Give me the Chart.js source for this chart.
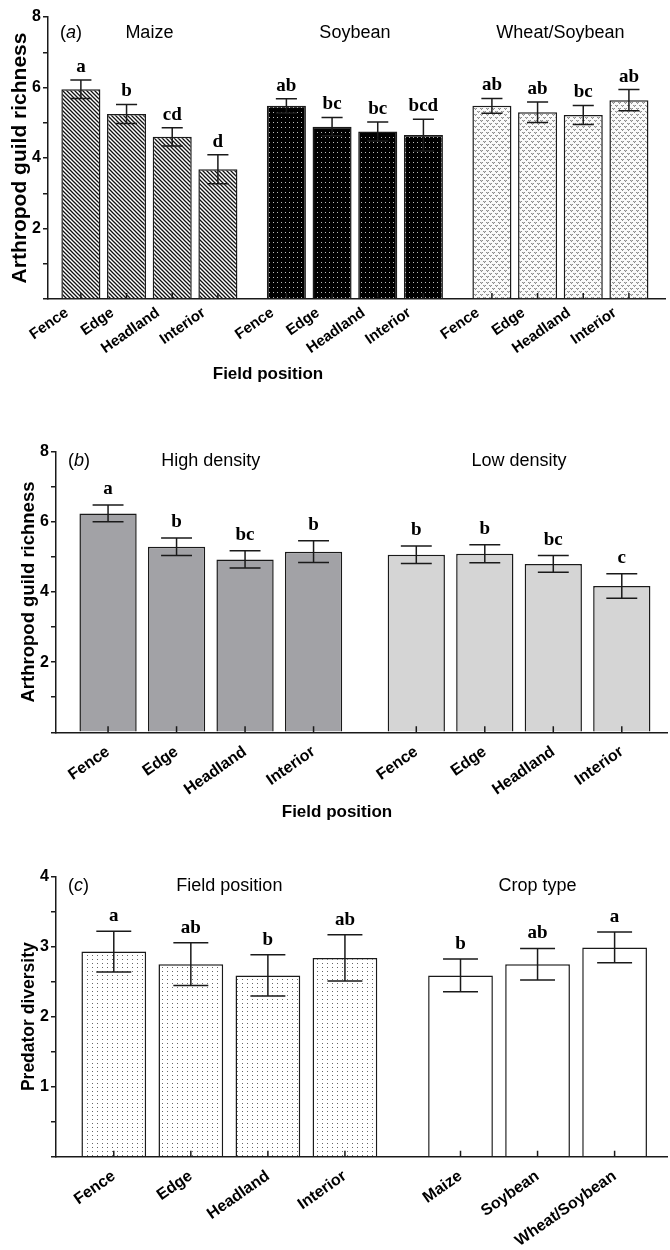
<!DOCTYPE html>
<html>
<head>
<meta charset="utf-8">
<script src="https://cdn.jsdelivr.net/npm/chart.js@4.4.1/dist/chart.umd.min.js"></script>
<style>
  body { margin: 0; background: #fff; }
  canvas { position: absolute; left: 0; }
</style>
</head>
<body>
<canvas id="panelA" width="670" height="400" style="top:0px"></canvas>
<canvas id="panelB" width="670" height="430" style="top:400px"></canvas>
<canvas id="panelC" width="670" height="420" style="top:830px"></canvas>
<script>
// ---- data ----
const positionLabels = ["Fence", "Edge", "Headland", "Interior"];
const cropLabels = ["Maize", "Soybean", "Wheat/Soybean"];

// (a) arthropod guild richness, crop x field position
const maizeRichness = [5.95, 5.25, 4.6, 3.68];
const maizeErr = [0.26, 0.27, 0.26, 0.41];
const maizeLetters = ["a", "b", "cd", "d"];
const soyRichness = [5.48, 4.89, 4.75, 4.65];
const soyErr = [0.2, 0.26, 0.27, 0.45];
const soyLetters = ["ab", "bc", "bc", "bcd"];
const wheatRichness = [5.48, 5.3, 5.22, 5.64];
const wheatErr = [0.21, 0.29, 0.27, 0.3];
const wheatLetters = ["ab", "ab", "bc", "ab"];

// (b) arthropod guild richness, density x field position
const highDensity = [6.24, 5.29, 4.93, 5.15];
const highErr = [0.24, 0.25, 0.245, 0.31];
const highLetters = ["a", "b", "bc", "b"];
const lowDensity = [5.06, 5.09, 4.8, 4.17];
const lowErr = [0.25, 0.255, 0.24, 0.35];
const lowLetters = ["b", "b", "bc", "c"];

// (c) predator diversity
const predatorByPosition = [2.93, 2.75, 2.59, 2.84];
const predatorPosErr = [0.29, 0.305, 0.295, 0.33];
const predatorPosLetters = ["a", "ab", "b", "ab"];
const predatorByCrop = [2.59, 2.75, 2.99];
const predatorCropErr = [0.235, 0.225, 0.22];
const predatorCropLetters = ["b", "ab", "a"];

const richnessTicks = [2, 4, 6, 8];
const diversityTicks = [1, 2, 3, 4];

const SANS = "'Liberation Sans', Arial, sans-serif";
const SERIF = "'Liberation Serif', 'Times New Roman', serif";
const INK = "#1a1a1a";

// ---- fill patterns ----
function tile(w, h, paint) {
  const c = document.createElement("canvas");
  c.width = w;
  c.height = h;
  const g = c.getContext("2d");
  paint(g);
  return g.createPattern(c, "repeat");
}

const hatchFill = tile(4, 4, (g) => {
  g.fillStyle = "#fff";
  g.fillRect(0, 0, 4, 4);
  g.strokeStyle = "#111";
  g.lineWidth = 1.3;
  g.beginPath();
  g.moveTo(-1, -1); g.lineTo(5, 5);
  g.moveTo(-1, 3); g.lineTo(1, 5);
  g.moveTo(3, -1); g.lineTo(5, 1);
  g.stroke();
});

const blackDotFill = tile(4, 5, (g) => {
  g.fillStyle = "#000";
  g.fillRect(0, 0, 4, 5);
  g.fillStyle = "#bbb";
  g.fillRect(1, 2, 1, 1);
});

const wheatFill = tile(6, 6, (g) => {
  g.fillStyle = "#fafafa";
  g.fillRect(0, 0, 6, 6);
  g.fillStyle = "#8c8c8c";
  [[0, 0], [2, 0], [1, 1], [3, 3], [5, 3], [4, 4]].forEach(([x, y]) => g.fillRect(x, y, 1, 1));
  g.fillStyle = "#c4c4c4";
  [[1, 0], [4, 3]].forEach(([x, y]) => g.fillRect(x, y, 1, 1));
});

const sparseDotFill = tile(5, 4, (g) => {
  g.fillStyle = "#fff";
  g.fillRect(0, 0, 5, 4);
  g.fillStyle = "#666";
  g.fillRect(2, 1, 1, 1);
});

// ---- error bars, letters, headers, inward x ticks ----
const decorPlugin = {
  id: "decor",
  afterDatasetsDraw(chart, args, o) {
    const ctx = chart.ctx;
    const y = chart.scales.y;
    const area = chart.chartArea;
    ctx.save();
    chart.data.datasets.forEach((ds, di) => {
      const meta = chart.getDatasetMeta(di);
      const bars = meta.data;
      bars.forEach((bar, i) => {
        const v = ds.data[i].y;
        const e = ds.errors[i];
        const top = y.getPixelForValue(v + e);
        const bot = y.getPixelForValue(v - e);
        const half = bar.width * 0.27;
        ctx.strokeStyle = INK;
        ctx.lineWidth = 1.5;
        ctx.beginPath();
        ctx.moveTo(bar.x, top); ctx.lineTo(bar.x, bot);
        ctx.moveTo(bar.x - half, top); ctx.lineTo(bar.x + half, top);
        ctx.moveTo(bar.x - half, bot); ctx.lineTo(bar.x + half, bot);
        // inward tick on the x axis
        ctx.moveTo(bar.x, area.bottom); ctx.lineTo(bar.x, area.bottom - 6);
        ctx.stroke();
        ctx.fillStyle = "#000";
        ctx.font = "bold " + o.letterSize + "px " + SERIF;
        ctx.textAlign = "center";
        ctx.textBaseline = "alphabetic";
        ctx.fillText(ds.letters[i], bar.x, top - o.letterGap);
      });
      // group header centred over the group
      const mid = (bars[0].x + bars[bars.length - 1].x) / 2;
      ctx.font = o.headerSize + "px " + SANS;
      ctx.textAlign = "center";
      ctx.fillStyle = "#000";
      ctx.fillText(ds.label, mid, o.headerY);
    });
    // panel tag like "(a)"
    ctx.textAlign = "left";
    let x = o.tagX;
    const parts = [["(", ""], [o.tag, "italic "], [")", ""]];
    parts.forEach(([t, st]) => {
      ctx.font = st + o.headerSize + "px " + SANS;
      ctx.fillText(t, x, o.headerY);
      x += ctx.measureText(t).width;
    });
    if (o.xTitle) {
      ctx.font = "bold 17px " + SANS;
      ctx.textAlign = "center";
      ctx.fillText(o.xTitle, o.xTitleX, o.xTitleY);
    }
    ctx.restore();
  },
};

function buildPanel(id, p) {
  const canvas = document.getElementById(id);
  const H = canvas.height;
  const positions = [];
  const labels = [];
  const datasets = p.groups.map((grp, gi) => {
    const start = gi * 4.5;
    const data = grp.values.map((v, i) => {
      positions.push(start + i);
      labels.push(grp.labels[i]);
      return { x: start + i, y: v };
    });
    return {
      label: grp.title,
      data: data,
      errors: grp.errors,
      letters: grp.letters,
      backgroundColor: grp.fill,
      borderColor: INK,
      borderWidth: 1.5,
      grouped: false,
      barPercentage: p.barPct,
      categoryPercentage: 1,
    };
  });

  new Chart(canvas, {
    type: "bar",
    data: { datasets: datasets },
    plugins: [decorPlugin],
    options: {
      responsive: false,
      animation: false,
      layout: {
        autoPadding: false,
        padding: { top: p.area.top, left: 0, right: 670 - p.area.right, bottom: 0 },
      },
      plugins: {
        legend: { display: false },
        tooltip: { enabled: false },
        decor: p.decor,
      },
      scales: {
        x: {
          type: "linear",
          min: p.xMin,
          max: positions[positions.length - 1] + p.xPadRight,
          offset: false,
          afterBuildTicks: (s) => {
            s.ticks = positions.map((v) => ({ value: v }));
          },
          afterFit: (s) => {
            s.height = H - p.area.bottom;
            s.paddingLeft = 0;
            s.paddingRight = 0;
          },
          grid: { drawOnChartArea: false, drawTicks: false },
          border: { display: true, color: INK, width: 1.5 },
          ticks: {
            autoSkip: false,
            minRotation: 35,
            maxRotation: 35,
            padding: p.xTickPad,
            labelOffset: p.xLabelOffset,
            color: "#000",
            font: { family: SANS, size: p.xTickSize, weight: "bold" },
            callback: (v, i) => labels[i],
          },
        },
        y: {
          min: 0,
          max: p.yMax,
          afterFit: (s) => {
            s.width = p.area.left;
          },
          grid: { drawOnChartArea: false, drawTicks: true, tickLength: 5, color: INK, lineWidth: 1.5 },
          border: { display: true, color: INK, width: 1.5 },
          ticks: {
            stepSize: p.yMax / 8,
            padding: 2,
            color: "#000",
            font: { family: SANS, size: 16, weight: "bold" },
            callback: (v) => (p.yLabels.includes(v) ? v : ""),
          },
          title: {
            display: true,
            text: p.yTitle,
            color: "#000",
            padding: { top: p.yTitlePad, bottom: 0 },
            font: { family: SANS, size: p.yTitleSize, weight: "bold" },
          },
        },
      },
    },
  });
}

buildPanel("panelA", {
  area: { top: 17, left: 48, right: 665, bottom: 299 },
  xMin: -0.72,
  xPadRight: 0.79,
  barPct: 0.855,
  yMax: 8,
  yLabels: richnessTicks,
  yTitle: "Arthropod guild richness",
  yTitleSize: 21,
  yTitlePad: 8,
  xTickSize: 15,
  xTickPad: 5,
  xLabelOffset: -14,
  groups: [
    { title: "Maize", values: maizeRichness, errors: maizeErr, letters: maizeLetters, labels: positionLabels, fill: hatchFill },
    { title: "Soybean", values: soyRichness, errors: soyErr, letters: soyLetters, labels: positionLabels, fill: blackDotFill },
    { title: "Wheat/Soybean", values: wheatRichness, errors: wheatErr, letters: wheatLetters, labels: positionLabels, fill: wheatFill },
  ],
  decor: { tag: "a", tagX: 60, headerY: 38, headerSize: 18, letterSize: 19, letterGap: 8,
           xTitle: "Field position", xTitleX: 268, xTitleY: 379 },
});

buildPanel("panelB", {
  area: { top: 51.7, left: 56, right: 667, bottom: 332.3 },
  xMin: -0.76,
  xPadRight: 0.66,
  barPct: 0.836,
  yMax: 8,
  yLabels: richnessTicks,
  yTitle: "Arthropod guild richness",
  yTitleSize: 18.5,
  yTitlePad: 18,
  xTickSize: 16,
  xTickPad: 10,
  xLabelOffset: 0,
  groups: [
    { title: "High density", values: highDensity, errors: highErr, letters: highLetters, labels: positionLabels, fill: "#a2a2a6" },
    { title: "Low density", values: lowDensity, errors: lowErr, letters: lowLetters, labels: positionLabels, fill: "#d5d5d5" },
  ],
  decor: { tag: "b", tagX: 68, headerY: 66, headerSize: 18, letterSize: 19, letterGap: 11,
           xTitle: "Field position", xTitleX: 337, xTitleY: 417 },
});

buildPanel("panelC", {
  area: { top: 46.7, left: 56, right: 667, bottom: 326.7 },
  xMin: -0.75,
  xPadRight: 0.68,
  barPct: 0.84,
  yMax: 4,
  yLabels: diversityTicks,
  yTitle: "Predator diversity",
  yTitleSize: 17.5,
  yTitlePad: 19,
  xTickSize: 16,
  xTickPad: 10,
  xLabelOffset: 0,
  groups: [
    { title: "Field position", values: predatorByPosition, errors: predatorPosErr, letters: predatorPosLetters, labels: positionLabels, fill: sparseDotFill },
    { title: "Crop type", values: predatorByCrop, errors: predatorCropErr, letters: predatorCropLetters, labels: cropLabels, fill: "#fff" },
  ],
  decor: { tag: "c", tagX: 68, headerY: 61, headerSize: 18, letterSize: 19, letterGap: 10 },
});
</script>
</body>
</html>
